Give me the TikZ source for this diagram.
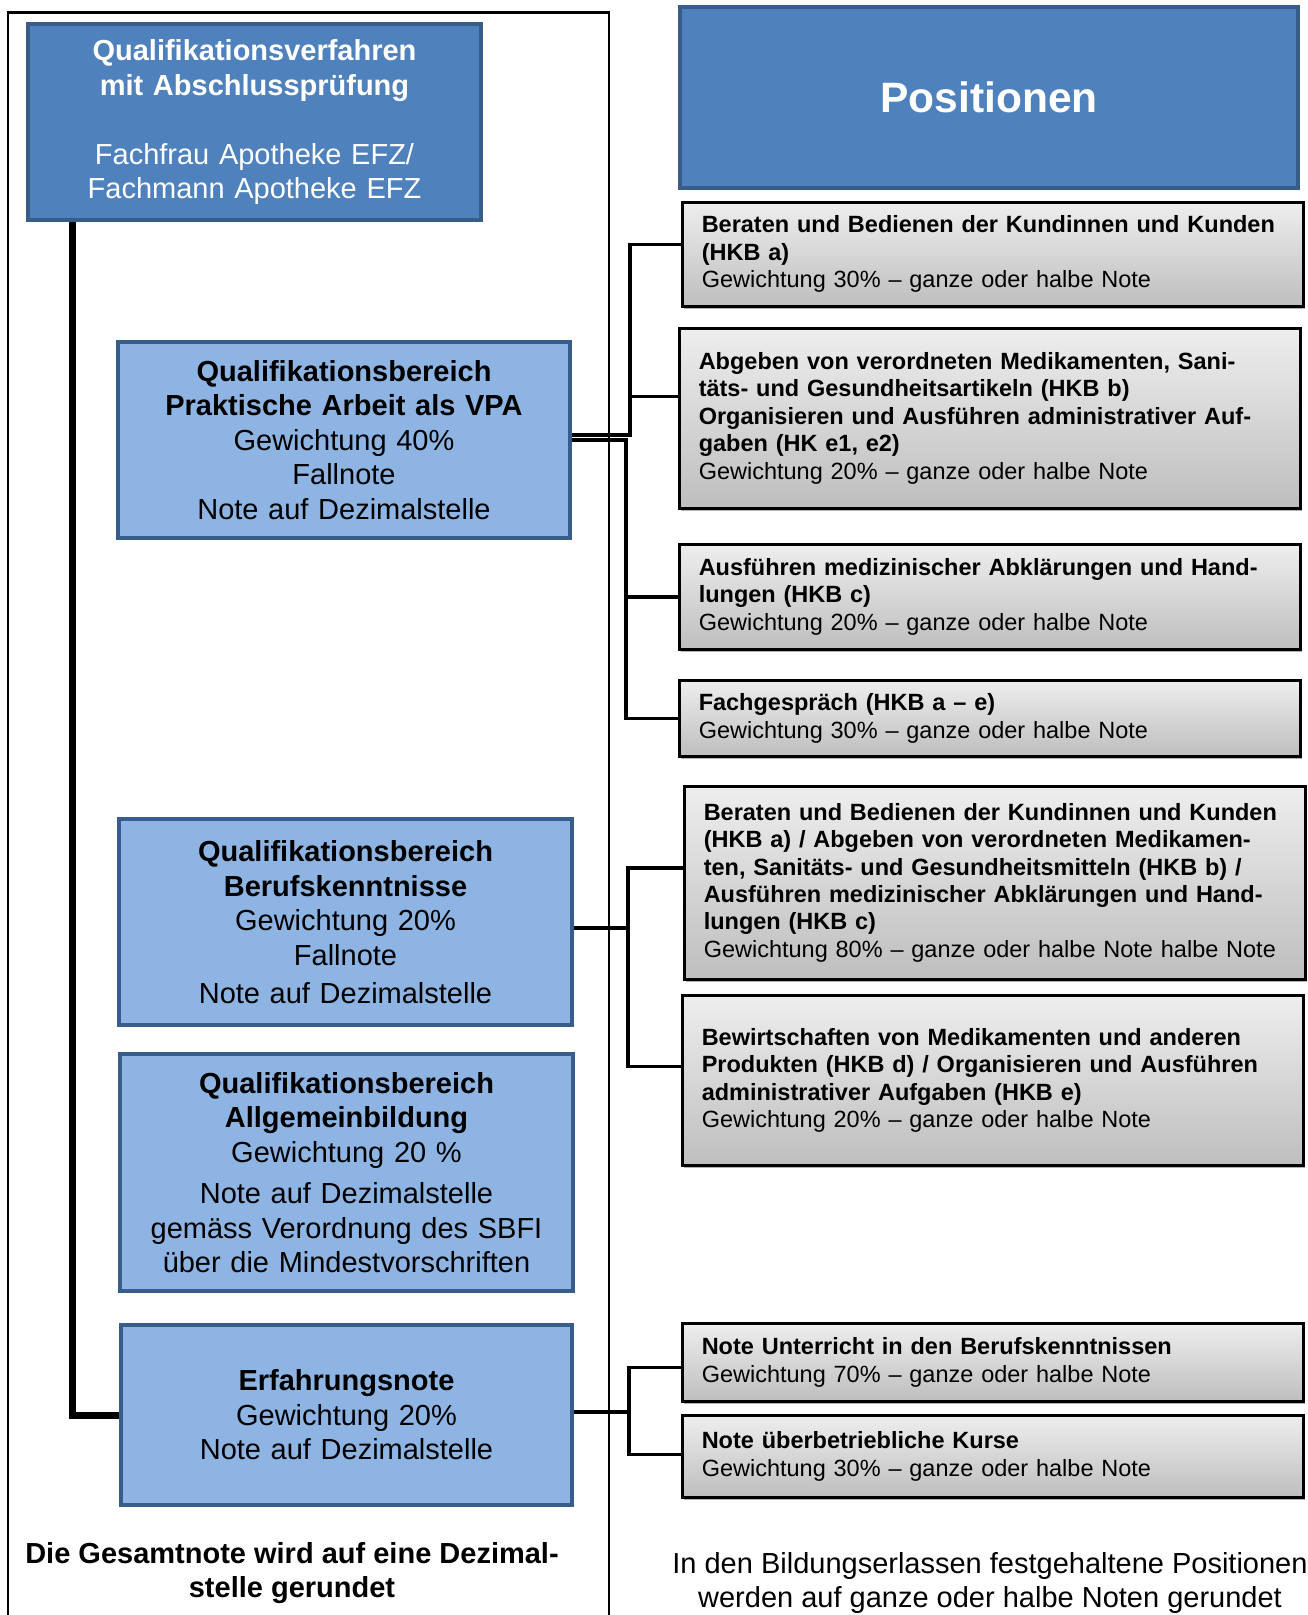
\documentclass[tikz,border=0pt]{standalone}
\usepackage{fontspec}
\setmainfont{Liberation Sans}
\usetikzlibrary{shadows}
\definecolor{qvblue}{RGB}{79,129,189}
\definecolor{qvborder}{RGB}{56,93,138}
\definecolor{qvlight}{RGB}{141,180,226}
\definecolor{postop}{RGB}{238,238,238}
\definecolor{posbottom}{RGB}{190,190,190}
\newcommand\qvfont{\fontsize{29}{34.5}\selectfont}
\newcommand\posfont{\fontsize{23.5}{27.4}\selectfont}

\begin{document}
\begin{tikzpicture}[x=1pt,y=-1pt,
  qvbox/.style={draw=qvborder,line width=4pt,anchor=north west,inner sep=0pt,align=center,font=\qvfont},
  headbox/.style={qvbox,fill=qvblue,text=white},
  areabox/.style={qvbox,fill=qvlight},
  posbox/.style={draw=black,line width=2.5pt,top color=postop,bottom color=posbottom,
    anchor=north west,align=left,inner xsep=19.5pt,inner ysep=0pt,text width=582pt,font=\posfont,
    drop shadow={shadow xshift=2pt,shadow yshift=-3pt,opacity=.3,fill=black}},
  link/.style={line width=3.5pt},
  mainline/.style={line width=7pt}]
\useasboundingbox (0,0) rectangle (1308,1615);

% Frame of the left column
\draw[line width=2.5pt] (8,1625) -- (8,12.5) -- (609,12.5) -- (609,1625);

% Left column
\node[headbox,text width=453pt,minimum height=196pt] (qv) at (26,22)
  {\textbf{Qualifikationsverfahren}\\\textbf{mit Abschlussprüfung}\\[34.5pt]
   Fachfrau Apotheke EFZ/\\Fachmann Apotheke EFZ};
\node[areabox,text width=452pt,minimum height=196pt] (vpa) at (116,340)
  {\textbf{Qualifikationsbereich}\\\textbf{Praktische Arbeit als VPA}\\Gewichtung 40\%\\Fallnote\\Note auf Dezimalstelle};
\node[areabox,text width=453pt,minimum height=206pt] (bk) at (117,817)
  {\textbf{Qualifikationsbereich}\\\textbf{Berufskenntnisse}\\Gewichtung 20\%\\Fallnote\\[3.5pt]Note auf Dezimalstelle};
\node[areabox,text width=453pt,minimum height=237pt] (ab) at (118,1052)
  {\textbf{Qualifikationsbereich}\\\textbf{Allgemeinbildung}\\Gewichtung 20 \%\\[7pt]Note auf Dezimalstelle\\gemäss Verordnung des SBFI\\über die Mindestvorschriften};
\node[areabox,text width=451pt,minimum height=180pt] (erf) at (119,1323)
  {\textbf{Erfahrungsnote}\\Gewichtung 20\%\\Note auf Dezimalstelle};
\node[font=\qvfont\bfseries,align=center] (total) at (292,1573)
  {Die Gesamtnote wird auf eine Dezimal-\\stelle gerundet};

% Right column
\node[headbox,text width=618pt,minimum height=181pt,font=\fontsize{42.5}{50}\selectfont\bfseries] (pos) at (678,5) {Positionen};
\node[posbox,minimum height=104pt] (p1) at (681,201)
  {\textbf{Beraten und Bedienen der Kundinnen und Kunden}\\\textbf{(HKB a)}\\Gewichtung 30\% – ganze oder halbe Note};
\node[posbox,minimum height=180pt] (p2) at (678,327)
  {\textbf{Abgeben von verordneten Medikamenten, Sani-}\\\textbf{täts- und Gesundheitsartikeln (HKB b)}\\\textbf{Organisieren und Ausführen administrativer Auf-}\\\textbf{gaben (HK e1, e2)}\\Gewichtung 20\% – ganze oder halbe Note};
\node[posbox,minimum height=105pt] (p3) at (678,543)
  {\textbf{Ausführen medizinischer Abklärungen und Hand-}\\\textbf{lungen (HKB c)}\\Gewichtung 20\% – ganze oder halbe Note};
\node[posbox,minimum height=76pt] (p4) at (678,679)
  {\textbf{Fachgespräch (HKB a – e)}\\Gewichtung 30\% – ganze oder halbe Note};
\node[posbox,minimum height=193pt] (p5) at (683,785)
  {\textbf{Beraten und Bedienen der Kundinnen und Kunden}\\\textbf{(HKB a) / Abgeben von verordneten Medikamen-}\\\textbf{ten, Sanitäts- und Gesundheitsmitteln (HKB b) /}\\\textbf{Ausführen medizinischer Abklärungen und Hand-}\\\textbf{lungen (HKB c)}\\Gewichtung 80\% – ganze oder halbe Note halbe Note};
\node[posbox,minimum height=170pt] (p6) at (681,994)
  {\textbf{Bewirtschaften von Medikamenten und anderen}\\\textbf{Produkten (HKB d) / Organisieren und Ausführen}\\\textbf{administrativer Aufgaben (HKB e)}\\Gewichtung 20\% – ganze oder halbe Note};
\node[posbox,minimum height=78pt] (p7) at (681,1322)
  {\textbf{Note Unterricht in den Berufskenntnissen}\\Gewichtung 70\% – ganze oder halbe Note};
\node[posbox,minimum height=82pt] (p8) at (681,1414)
  {\textbf{Note überbetriebliche Kurse}\\Gewichtung 30\% – ganze oder halbe Note};
\node[font=\qvfont,align=center] (rule) at (990,1583)
  {In den Bildungserlassen festgehaltene Positionen\\werden auf ganze oder halbe Noten gerundet};

% Connectors
\draw[mainline] ([xshift=46pt]qv.south west) |- (erf.west);
\draw[link] ([yshift=5pt]vpa.east) -- ++(58,0) |- ([yshift=10pt]p1.west);
\draw[link] ([yshift=5pt]vpa.east) -- ++(58,0) |- ([yshift=22pt]p2.west);
\draw[link] (vpa.east) -- ++(54,0) |- (p3.west);
\draw[link] (vpa.east) -- ++(54,0) |- (p4.west);
\draw[link] ([yshift=-6pt]bk.east) -- ++(54,0) |- ([yshift=15pt]p5.west);
\draw[link] ([yshift=-6pt]bk.east) -- ++(54,0) |- ([yshift=14pt]p6.west);
\draw[link] ([yshift=3pt]erf.east) -- ++(55,0) |- ([yshift=-5pt]p7.west);
\draw[link] ([yshift=3pt]erf.east) -- ++(55,0) |- ([yshift=2pt]p8.west);
\end{tikzpicture}
\end{document}
